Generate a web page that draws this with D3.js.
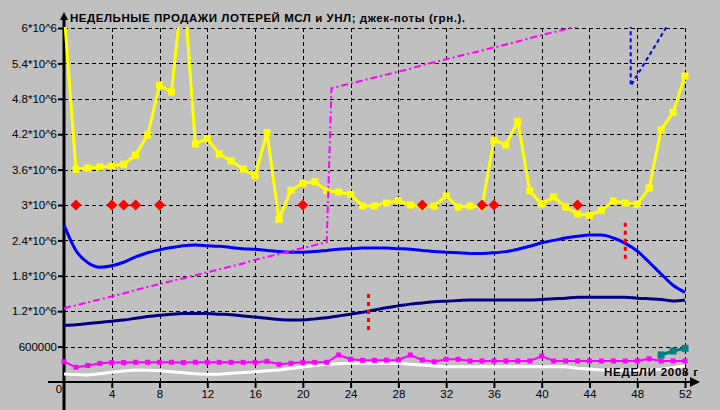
<!DOCTYPE html>
<html><head><meta charset="utf-8">
<script src="https://cdn.jsdelivr.net/npm/d3@7"></script>
<style>body{margin:0;background:#c0c0c0;overflow:hidden}svg{display:block}</style>
</head><body>
<svg id="chart" width="720" height="410"></svg>
<script>
// ---- data (values in millions of грн.) ----
const titleText = "НЕДЕЛЬНЫЕ ПРОДАЖИ ЛОТЕРЕЙ МСЛ и УНЛ; джек-поты (грн.).";
const xAxisTitle = "НЕДЕЛИ 2008 г";
const weeks = d3.range(0, 53);
const weekTicks = [4, 8, 12, 16, 20, 24, 28, 32, 36, 40, 44, 48, 52];
const yTicks = [0.6, 1.2, 1.8, 2.4, 3.0, 3.6, 4.2, 4.8, 5.4, 6.0];
const yTickLabels = ["600000", "1.2*10^6", "1.8*10^6", "2.4*10^6", "3*10^6", "3.6*10^6", "4.2*10^6", "4.8*10^6", "5.4*10^6", "6*10^6"];

const salesYellow = [6.3, 3.605, 3.627, 3.644, 3.66, 3.69, 3.847, 4.186, 5.03, 4.915,
  6.8, 4.034, 4.124, 3.864, 3.746, 3.61, 3.497, 4.23, 2.757, 3.249,
  3.367, 3.395, 3.243, 3.22, 3.18, 2.983, 2.983, 3.034, 3.073, 3.0,
  2.972, 2.983, 3.153, 2.966, 2.983, 2.972, 4.10, 4.017, 4.418, 3.237,
  3.017, 3.136, 2.966, 2.847, 2.825, 2.91, 3.068, 3.034, 3.01, 3.288,
  4.27, 4.57, 5.186];

const trendBlue = [2.66, 2.23, 2.02, 1.945, 1.97, 2.03, 2.12, 2.19, 2.24, 2.28,
  2.31, 2.32, 2.31, 2.30, 2.28, 2.26, 2.25, 2.23, 2.21, 2.20,
  2.20, 2.21, 2.23, 2.25, 2.26, 2.27, 2.27, 2.27, 2.26, 2.25,
  2.23, 2.21, 2.20, 2.19, 2.18, 2.18, 2.19, 2.21, 2.25, 2.30,
  2.36, 2.40, 2.44, 2.47, 2.49, 2.49, 2.44, 2.35, 2.22, 2.03,
  1.83, 1.64, 1.52];

const trendNavy = [0.96, 0.97, 0.99, 1.01, 1.03, 1.05, 1.08, 1.11, 1.13, 1.15,
  1.16, 1.16, 1.16, 1.15, 1.14, 1.12, 1.10, 1.08, 1.06, 1.05,
  1.05, 1.07, 1.09, 1.12, 1.15, 1.18, 1.22, 1.26, 1.29, 1.32,
  1.34, 1.36, 1.37, 1.38, 1.39, 1.39, 1.39, 1.39, 1.39, 1.39,
  1.40, 1.41, 1.42, 1.435, 1.435, 1.435, 1.435, 1.435, 1.42, 1.41,
  1.40, 1.373, 1.39];

const jackpotWeeks = [0, 1, 2, 3, 4, 5, 6, 7, 8, 9, 10, 11, 12, 13, 14, 15, 16, 17, 18, 19, 20, 21, 22,
  22.4, 23, 24, 25, 26, 27, 28, 29, 30, 31, 32, 33, 34, 35, 36, 37, 38, 39, 40, 41, 42, 43];
const jackpotValues = [1.25, 1.30, 1.35, 1.40, 1.45, 1.50, 1.56, 1.61, 1.66, 1.71, 1.76, 1.81, 1.86, 1.91, 1.96, 2.01, 2.07, 2.12, 2.17, 2.22, 2.27, 2.32, 2.37,
  4.98, 5.01, 5.06, 5.11, 5.16, 5.21, 5.26, 5.31, 5.37, 5.42, 5.47, 5.52, 5.57, 5.62, 5.67, 5.72, 5.77, 5.83, 5.88, 5.93, 5.98, 6.03];

const jackpot2Weeks = [47.45, 47.45, 51];
const jackpot2Values = [6.3, 5.02, 6.2];

const salesMagenta = [0.344, 0.25, 0.28, 0.316, 0.33, 0.33, 0.335, 0.335, 0.335, 0.335,
  0.33, 0.335, 0.334, 0.334, 0.334, 0.334, 0.334, 0.35, 0.30, 0.317,
  0.334, 0.334, 0.334, 0.458, 0.385, 0.367, 0.367, 0.37, 0.373, 0.458,
  0.373, 0.344, 0.385, 0.385, 0.356, 0.356, 0.356, 0.356, 0.356, 0.356,
  0.44, 0.356, 0.356, 0.356, 0.356, 0.356, 0.356, 0.356, 0.356, 0.395,
  0.356, 0.356, 0.356];

const salesWhite = [0.135, 0.125, 0.118, 0.14, 0.164, 0.185, 0.203, 0.2, 0.19, 0.175,
  0.158, 0.14, 0.13, 0.13, 0.15, 0.16, 0.175, 0.19, 0.205, 0.23,
  0.255, 0.28, 0.3, 0.31, 0.317, 0.317, 0.317, 0.317, 0.317, 0.3,
  0.29, 0.27, 0.26, 0.26, 0.26, 0.26, 0.26, 0.26, 0.26, 0.26,
  0.26, 0.26, 0.26, 0.235, 0.22, 0.203, 0.203, 0.203, 0.203, 0.203,
  0.215, 0.24, 0.275];

const tealWeeks = [50, 51, 52];
const tealValues = [0.458, 0.525, 0.57];

const diamondWeeks = [1, 4, 5, 6, 8, 20, 30, 35, 36, 43];
const diamondValues = [3, 3, 3, 3, 3, 3, 3, 3, 3, 3];

const markWeeks = [25.5, 47];
const markLows = [0.88, 2.09];
const markHighs = [1.49, 2.70];

// ---- drawing ----
const svg = d3.select("#chart");
const x = d3.scaleLinear().domain([0, 52]).range([64, 685]);
const y = d3.scaleLinear().domain([0, 6]).range([382, 28]);

svg.append("rect").attr("width", 720).attr("height", 410).attr("fill", "#c0c0c0");

// grid
const grid = svg.append("g").attr("stroke", "#000").attr("stroke-width", 1)
  .attr("stroke-dasharray", "4,3").attr("shape-rendering", "crispEdges");
grid.selectAll(".h").data(yTicks).join("line")
  .attr("x1", x(0)).attr("x2", x(52))
  .attr("y1", d => Math.round(y(d)) + 0.5).attr("y2", d => Math.round(y(d)) + 0.5);
grid.selectAll(".v").data(weekTicks).join("line")
  .attr("y1", y(6)).attr("y2", y(0))
  .attr("x1", d => Math.round(x(d)) + 0.5).attr("x2", d => Math.round(x(d)) + 0.5);

// axes
const font = "'Liberation Sans', Arial, sans-serif";
const yAxis = svg.append("g").attr("transform", "translate(64,0)")
  .call(d3.axisLeft(y).tickValues(yTicks).tickFormat((d, i) => yTickLabels[i]).tickSize(6).tickPadding(1));
yAxis.select(".domain").remove();
yAxis.selectAll("line").attr("stroke-width", 2);
yAxis.selectAll("text").attr("font-family", font).attr("font-size", 11.5).attr("fill", "#000");

const xAxis = svg.append("g").attr("transform", "translate(0,382)")
  .call(d3.axisBottom(x).tickValues(weekTicks).tickSize(6).tickPadding(2));
xAxis.select(".domain").remove();
xAxis.selectAll("line").attr("stroke-width", 2);
xAxis.selectAll("text").attr("font-family", font).attr("font-size", 11.5).attr("fill", "#000");

svg.append("text").attr("x", 59).attr("y", 393).attr("text-anchor", "middle")
  .attr("font-family", font).attr("font-size", 11.5).text("0");

svg.append("line").attr("x1", 64).attr("x2", 64).attr("y1", 16).attr("y2", 410)
  .attr("stroke", "#000").attr("stroke-width", 3);
svg.append("line").attr("x1", 48).attr("x2", 692).attr("y1", 382).attr("y2", 382)
  .attr("stroke", "#000").attr("stroke-width", 2);
svg.append("path").attr("d", "M64,12 L60,20 L68,20 Z").attr("fill", "#000");
svg.append("path").attr("d", "M700,382 L690,377 L690,387 Z").attr("fill", "#000");

// clip
svg.append("clipPath").attr("id", "plotClip").append("rect")
  .attr("x", 58).attr("y", 27).attr("width", 650).attr("height", 380);
const plot = svg.append("g").attr("clip-path", "url(#plotClip)");

const lineW = (vals, curve) => d3.line().x((d, i) => x(weeks[i])).y(d => y(d)).curve(curve || d3.curveLinear)(vals);
const lineXY = (ws, vs, curve) => d3.line().x((d, i) => x(ws[i])).y(d => y(d)).curve(curve || d3.curveLinear)(vs);

plot.append("path").attr("d", lineW(salesWhite)).attr("fill", "none")
  .attr("stroke", "#fff").attr("stroke-width", 3);
plot.append("path").attr("d", lineW(trendNavy, d3.curveMonotoneX)).attr("fill", "none")
  .attr("stroke", "#000080").attr("stroke-width", 3);
plot.append("path").attr("d", lineW(trendBlue, d3.curveMonotoneX)).attr("fill", "none")
  .attr("stroke", "#0000ff").attr("stroke-width", 3);

// magenta weekly sales
plot.append("path").attr("d", lineW(salesMagenta)).attr("fill", "none")
  .attr("stroke", "#ff00ff").attr("stroke-width", 2);
plot.selectAll(".mm").data(salesMagenta).join("rect")
  .attr("x", (d, i) => x(weeks[i]) - 2.5).attr("y", d => y(d) - 2.5)
  .attr("width", 5).attr("height", 5).attr("fill", "#ff00ff");

// yellow weekly sales
plot.append("path").attr("d", lineW(salesYellow)).attr("fill", "none")
  .attr("stroke", "#ffff00").attr("stroke-width", 3).attr("stroke-linejoin", "round");
plot.selectAll(".ym").data(salesYellow).join("rect")
  .attr("x", (d, i) => x(weeks[i]) - 3.5).attr("y", d => y(d) - 3.5)
  .attr("width", 7).attr("height", 7).attr("fill", "#ffff00");

// jackpot (dash-dot)
plot.append("path").attr("d", lineXY(jackpotWeeks, jackpotValues)).attr("fill", "none")
  .attr("stroke", "#ff00ff").attr("stroke-width", 2).attr("stroke-dasharray", "7,3,2,3");

// red diamonds
plot.selectAll(".dm").data(diamondValues).join("path")
  .attr("transform", (d, i) => `translate(${x(diamondWeeks[i])},${y(d)})`)
  .attr("d", "M0,-5.5 L5.5,0 L0,5.5 L-5.5,0 Z").attr("fill", "#ff0000");

// teal
plot.append("path").attr("d", lineXY(tealWeeks, tealValues)).attr("fill", "none")
  .attr("stroke", "#008080").attr("stroke-width", 3);
plot.selectAll(".tm").data(tealValues).join("rect")
  .attr("x", (d, i) => x(tealWeeks[i]) - 3.5).attr("y", d => y(d) - 3.5)
  .attr("width", 7).attr("height", 7).attr("fill", "#008080");

// second jackpot (blue dashed)
plot.append("path").attr("d", lineXY(jackpot2Weeks, jackpot2Values)).attr("fill", "none")
  .attr("stroke", "#0000ff").attr("stroke-width", 2).attr("stroke-dasharray", "4,3");

// red dotted marks
plot.selectAll(".rk").data(markWeeks).join("line")
  .attr("x1", d => x(d)).attr("x2", d => x(d))
  .attr("y1", (d, i) => y(markHighs[i])).attr("y2", (d, i) => y(markLows[i]))
  .attr("stroke", "#ff0000").attr("stroke-width", 3).attr("stroke-dasharray", "4,4");

// titles
svg.append("text").attr("x", 70).attr("y", 22).attr("font-family", font)
  .attr("font-weight", "bold").attr("font-size", 11.5).attr("fill", "#000")
  .attr("textLength", 395).attr("lengthAdjust", "spacing").text(titleText);
svg.append("text").attr("x", 604).attr("y", 376).attr("font-family", font)
  .attr("font-weight", "bold").attr("font-size", 11.5).attr("fill", "#000")
  .attr("textLength", 94).attr("lengthAdjust", "spacing").text(xAxisTitle);
</script>
</body></html>
